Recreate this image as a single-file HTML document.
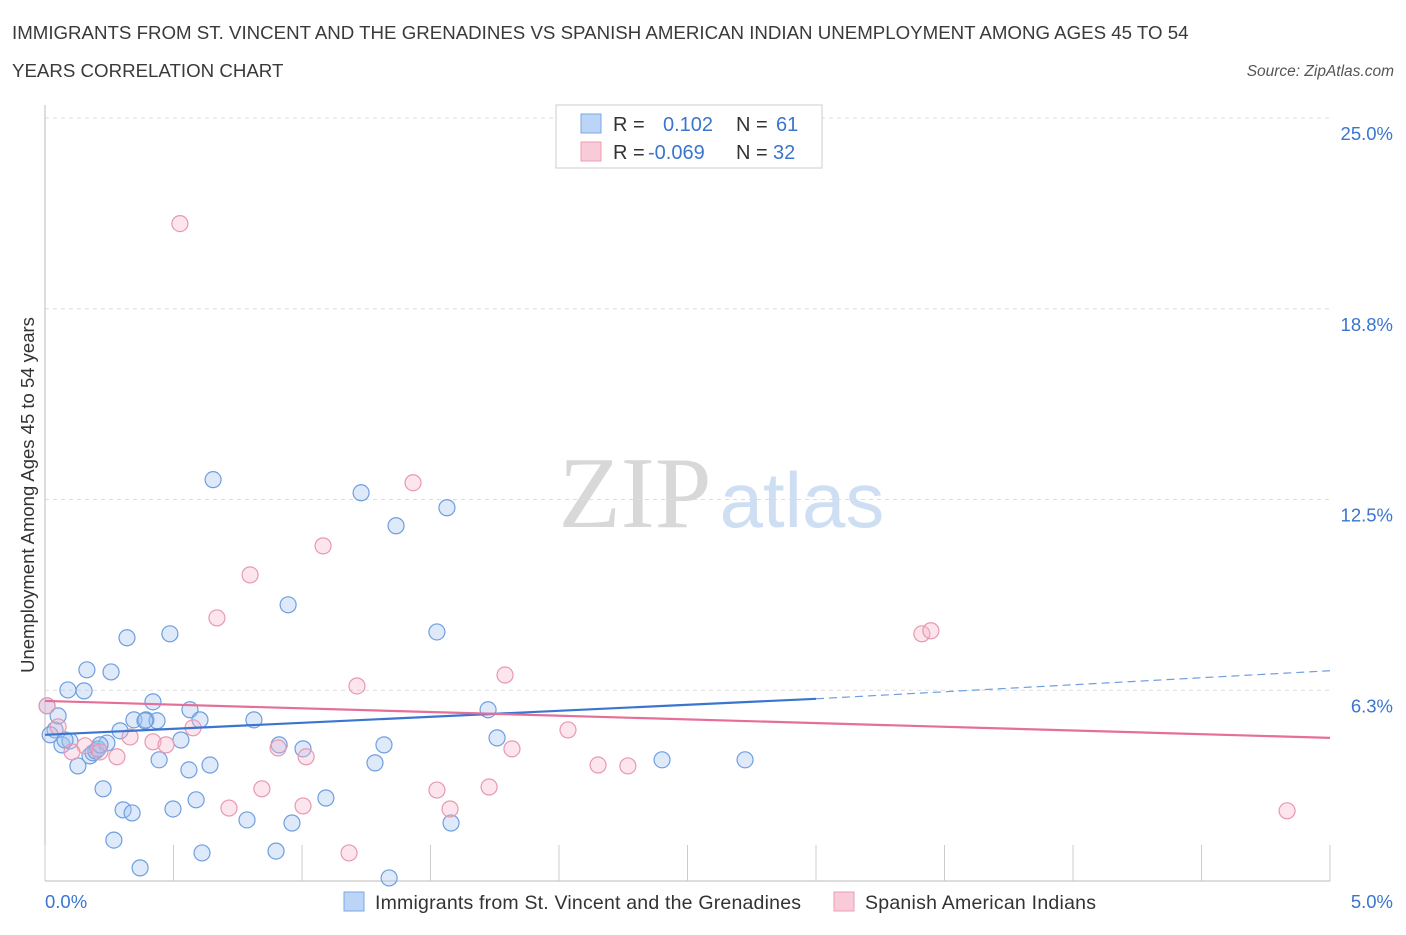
<!DOCTYPE html>
<html><head><meta charset="utf-8">
<style>
body{margin:0;background:#fff;font-family:"Liberation Sans",sans-serif;}
svg text{font-family:"Liberation Sans",sans-serif;}
</style></head>
<body>
<svg width="1406" height="930" xmlns="http://www.w3.org/2000/svg">
<text x="12" y="39" font-size="18.7" fill="#3a3a3a">IMMIGRANTS FROM ST. VINCENT AND THE GRENADINES VS SPANISH AMERICAN INDIAN UNEMPLOYMENT AMONG AGES 45 TO 54</text>
<text x="12" y="77" font-size="18.7" fill="#3a3a3a">YEARS CORRELATION CHART</text>
<text x="1394" y="76" font-size="15.5" fill="#555" text-anchor="end" font-style="italic">Source: ZipAtlas.com</text>
<text x="635" y="527" font-size="102" fill="#d8d8d8" text-anchor="middle" style="font-family:'Liberation Serif',serif">ZIP</text>
<text x="802" y="527" font-size="78" fill="#cfdff3" text-anchor="middle">atlas</text>
<g id="grid"></g>
<g id="axes"></g>
<text transform="translate(34,495) rotate(-90)" font-size="18.5" fill="#333" text-anchor="middle">Unemployment Among Ages 45 to 54 years</text>
<g id="marks"></g>
<g id="trends"></g>
<g>
<rect x="556" y="105" width="266" height="63" fill="#fff" stroke="#ccc"/>
<rect x="581" y="114" width="20" height="19" fill="#bcd4f5" stroke="#7aa7e6"/>
<rect x="581" y="142" width="20" height="19" fill="#f9cad8" stroke="#ea9db4"/>
<text x="613" y="131" font-size="20" fill="#333">R =</text>
<text x="663" y="131" font-size="20" fill="#3a75d0">0.102</text>
<text x="736" y="131" font-size="20" fill="#333">N =</text>
<text x="776" y="131" font-size="20" fill="#3a75d0">61</text>
<text x="613" y="159" font-size="20" fill="#333">R =</text>
<text x="648" y="159" font-size="20" fill="#3a75d0">-0.069</text>
<text x="736" y="159" font-size="20" fill="#333">N =</text>
<text x="773" y="159" font-size="20" fill="#3a75d0">32</text>
</g>
<g>
<rect x="344" y="892" width="20" height="19" fill="#bcd4f5" stroke="#7aa7e6"/>
<text x="375" y="909" font-size="19.5" fill="#333" textLength="426">Immigrants from St. Vincent and the Grenadines</text>
<rect x="834" y="892" width="20" height="19" fill="#f9cad8" stroke="#ea9db4"/>
<text x="865" y="909" font-size="19.5" fill="#333" textLength="231">Spanish American Indians</text>
</g>
</svg>
<script>
const blueX=[0.008,0.039,0.051,0.066,0.089,0.097,0.128,0.152,0.163,0.175,0.187,0.198,0.206,0.226,0.241,0.257,0.268,0.292,0.304,0.319,0.339,0.346,0.370,0.393,0.420,0.436,0.444,0.486,0.498,0.529,0.560,0.564,0.588,0.603,0.611,0.642,0.654,0.786,0.813,0.899,0.911,0.946,0.961,1.004,1.093,1.230,1.284,1.319,1.339,1.366,1.525,1.564,1.580,1.724,1.759,2.401,2.724,0.020,0.078,0.214,0.389];
const blueY=[5.74,4.95,5.41,4.46,6.26,4.59,3.77,6.23,6.92,4.10,4.20,4.26,4.33,3.02,4.52,6.85,1.34,4.92,2.33,7.97,2.23,5.28,0.43,5.28,5.87,5.25,3.97,8.10,2.36,4.62,3.64,5.61,2.66,5.28,0.92,3.80,13.15,2.00,5.28,0.98,4.46,9.05,1.90,4.33,2.72,12.72,3.87,4.46,0.10,11.64,8.16,12.23,1.90,5.61,4.69,3.97,3.97,4.79,4.62,4.46,5.25];
const pinkX=[0.008,0.051,0.105,0.156,0.214,0.280,0.331,0.420,0.471,0.525,0.576,0.669,0.716,0.798,0.844,0.907,1.004,1.016,1.082,1.183,1.214,1.432,1.525,1.576,1.728,1.790,1.817,2.035,2.152,2.268,3.412,3.447,4.833];
const pinkY=[5.74,5.05,4.23,4.43,4.23,4.07,4.72,4.56,4.46,21.54,5.02,8.62,2.39,10.03,3.02,4.36,2.46,4.07,10.98,0.92,6.39,13.05,2.98,2.36,3.08,6.75,4.33,4.95,3.80,3.77,8.10,8.20,2.30];
const yTicks=[25.0,18.75,12.5,6.25];
const yTickLabels=["25.0%","18.8%","12.5%","6.3%"];
const xTickVals=[0,0.5,1,1.5,2,2.5,3,3.5,4,4.5,5];
const blueTrend=[[0,4.79],[3,5.97],[5,6.89]];
const pinkTrend=[[0,5.9],[5,4.69]];
const X=v=>45+v*257, Y=v=>881-v*30.52;
const NS="http://www.w3.org/2000/svg";
function mk(t,a,p){const e=document.createElementNS(NS,t);for(const k in a)e.setAttribute(k,a[k]);p.appendChild(e);return e;}
const grid=document.getElementById('grid'),axes=document.getElementById('axes'),marks=document.getElementById('marks'),tr=document.getElementById('trends');
yTicks.forEach((v,i)=>{
 const l=mk('line',{x1:45,x2:1330,y1:Y(v),y2:Y(v),stroke:'#dcdcdc','stroke-dasharray':'4,4'},grid);
 
 
 const t=mk('text',{x:1393,y:Y(v)+22,'font-size':18.5,fill:'#3a75d0','text-anchor':'end'},axes);
 t.textContent=yTickLabels[i];
 
 
});
const ax=mk('line',{x1:45,x2:1330,y1:881,y2:881,stroke:'#bbb'},axes);


const ay=mk('line',{x1:45,x2:45,y1:105,y2:881,stroke:'#bbb'},axes);


xTickVals.forEach(v=>{const t=mk('line',{x1:X(v),x2:X(v),y1:845,y2:881,stroke:'#ccc'},axes);
 
 });
[[0,"0.0%","start",45],[5,"5.0%","end",1393]].forEach(d=>{const t=mk('text',{x:d[3],y:908,'font-size':18.5,fill:'#3a75d0','text-anchor':d[2]},axes);t.textContent=d[1];
 
 });
blueX.forEach((v,i)=>{const c=mk('circle',{cx:X(v),cy:Y(blueY[i]),r:8,fill:'rgba(160,196,240,0.35)',stroke:'#6e9ee0','stroke-width':1.2},marks);
 
 });
pinkX.forEach((v,i)=>{const c=mk('circle',{cx:X(v),cy:Y(pinkY[i]),r:8,fill:'rgba(245,180,200,0.35)',stroke:'#e898b0','stroke-width':1.2},marks);
 
 });
const b1=mk('line',{x1:X(blueTrend[0][0]),y1:Y(blueTrend[0][1]),x2:X(blueTrend[1][0]),y2:Y(blueTrend[1][1]),stroke:'#3a75d0','stroke-width':2.2},tr);


const b2=mk('line',{x1:X(blueTrend[1][0]),y1:Y(blueTrend[1][1]),x2:X(blueTrend[2][0]),y2:Y(blueTrend[2][1]),stroke:'#6e9ee0','stroke-width':1.2,'stroke-dasharray':'8,5'},tr);


const p1=mk('line',{x1:X(pinkTrend[0][0]),y1:Y(pinkTrend[0][1]),x2:X(pinkTrend[1][0]),y2:Y(pinkTrend[1][1]),stroke:'#e46f98','stroke-width':2.2},tr);


</script>
</body></html>
